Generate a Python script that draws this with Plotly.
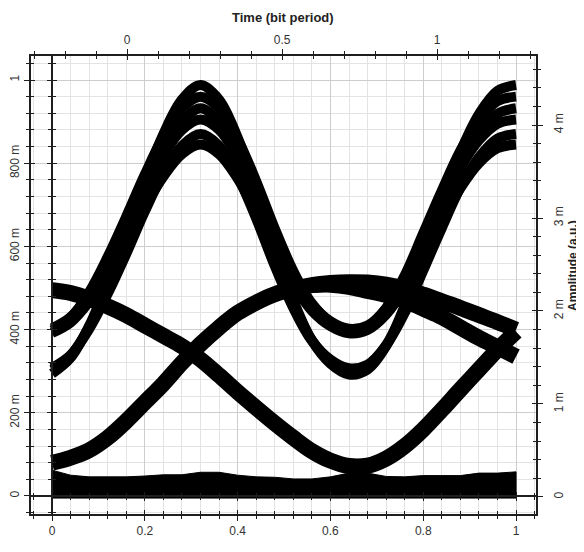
import plotly.graph_objects as go

# ---------------- data ----------------
time_x = [0.00, 0.04, 0.08, 0.12, 0.16, 0.20, 0.24, 0.28, 0.32, 0.36, 0.40, 0.44, 0.48,
          0.52, 0.56, 0.60, 0.64, 0.68, 0.72, 0.76, 0.80, 0.84, 0.88, 0.92, 0.96, 1.00]

# large "1"-level waveforms (upper eye)
wave_a1 = [0.294, 0.332, 0.409, 0.514, 0.633, 0.759, 0.870, 0.953, 0.988, 0.953, 0.862, 0.737, 0.597,
           0.471, 0.374, 0.318, 0.292, 0.304, 0.360, 0.457, 0.583, 0.709, 0.827, 0.918, 0.974, 0.988]
wave_a2 = [0.398, 0.428, 0.490, 0.575, 0.672, 0.773, 0.864, 0.932, 0.960, 0.932, 0.858, 0.757, 0.643,
           0.541, 0.463, 0.418, 0.397, 0.406, 0.452, 0.530, 0.632, 0.734, 0.830, 0.903, 0.949, 0.960]
wave_a3 = [0.303, 0.337, 0.406, 0.500, 0.607, 0.720, 0.822, 0.899, 0.932, 0.899, 0.818, 0.703, 0.577,
           0.464, 0.375, 0.325, 0.302, 0.313, 0.363, 0.450, 0.565, 0.678, 0.786, 0.869, 0.919, 0.932]
wave_a4 = [0.403, 0.430, 0.486, 0.562, 0.647, 0.738, 0.819, 0.880, 0.905, 0.880, 0.814, 0.723, 0.622,
           0.531, 0.461, 0.420, 0.402, 0.410, 0.451, 0.521, 0.612, 0.703, 0.789, 0.855, 0.895, 0.905]
wave_a5 = [0.308, 0.339, 0.401, 0.486, 0.582, 0.684, 0.775, 0.842, 0.870, 0.842, 0.768, 0.667, 0.553,
           0.452, 0.373, 0.328, 0.307, 0.316, 0.362, 0.440, 0.542, 0.644, 0.741, 0.814, 0.859, 0.870]
wave_a6 = [0.392, 0.417, 0.467, 0.536, 0.613, 0.695, 0.768, 0.822, 0.845, 0.822, 0.763, 0.681, 0.590,
           0.508, 0.445, 0.408, 0.391, 0.399, 0.436, 0.499, 0.581, 0.663, 0.740, 0.800, 0.836, 0.845]

# medium-level transitions (lower eye)
wave_fall = [0.495, 0.488, 0.474, 0.456, 0.435, 0.410, 0.385, 0.360, 0.328, 0.290, 0.250, 0.212, 0.175,
             0.140, 0.108, 0.085, 0.072, 0.073, 0.090, 0.120, 0.160, 0.207, 0.256, 0.304, 0.352, 0.395]
wave_rise = [0.080, 0.092, 0.110, 0.140, 0.180, 0.225, 0.270, 0.320, 0.365, 0.405, 0.440, 0.465, 0.485,
             0.498, 0.507, 0.512, 0.514, 0.513, 0.508, 0.498, 0.484, 0.468, 0.452, 0.435, 0.418, 0.400]
wave_fall2 = [None, None, None, None, None, None, None, None, None, None, None, None, None,
              None, 0.507, 0.508, 0.503, 0.493, 0.483, 0.470, 0.450, 0.430, 0.405, 0.380, 0.358, 0.335]

# "0"-level floor band
floor_hi = [0.062, 0.050, 0.046, 0.046, 0.046, 0.048, 0.051, 0.051, 0.057, 0.057, 0.050, 0.046, 0.045,
            0.041, 0.041, 0.046, 0.055, 0.055, 0.047, 0.046, 0.049, 0.049, 0.049, 0.055, 0.055, 0.058]
floor_lo = [-0.005] * 26

bottom_ticks = [0, 0.2, 0.4, 0.6, 0.8, 1]
bottom_labels = ["0", "0.2", "0.4", "0.6", "0.8", "1"]
top_ticks = [0, 0.5, 1]
top_labels = ["0", "0.5", "1"]
left_ticks = [0, 0.2, 0.4, 0.6, 0.8, 1]
left_labels = ["0", "200 m", "400 m", "600 m", "800 m", "1"]
right_ticks = [0, 1, 2, 3, 4]
right_labels = ["0", "1 m", "2 m", "3 m", "4 m"]

# ---------------- style ----------------
INK = "#1e1e1e"
FONT = "Arial, 'Liberation Sans', sans-serif"
X_RANGE = [-0.0453, 1.043]
X2_RANGE = [-0.3097, 1.319]
Y_RANGE = [-0.0433, 1.0577]
Y2_RANGE = [-0.183, 4.742]

fig = go.Figure()

# floor band
fig.add_trace(go.Scatter(x=time_x + time_x[::-1], y=floor_hi + floor_lo[::-1],
                         fill="toself", fillcolor="black", line=dict(color="black", width=1),
                         mode="lines", showlegend=False, hoverinfo="skip"))

for w in [wave_fall, wave_rise, wave_fall2]:
    fig.add_trace(go.Scatter(x=time_x, y=w, mode="lines",
                             line=dict(color="black", width=16, shape="spline", smoothing=1.0),
                             showlegend=False, hoverinfo="skip", connectgaps=False))

for w in [wave_a1, wave_a2, wave_a3, wave_a4, wave_a5, wave_a6]:
    fig.add_trace(go.Scatter(x=time_x, y=w, mode="lines",
                             line=dict(color="black", width=10, shape="spline", smoothing=1.0),
                             showlegend=False, hoverinfo="skip"))

# empty carriers so every overlay axis is drawn
for xa, ya in [("x2", "y2"), ("x3", "y3"), ("x4", "y4"), ("x5", "y5"), ("x6", "y6")]:
    fig.add_trace(go.Scatter(x=[None], y=[None], xaxis=xa, yaxis=ya, showlegend=False,
                             hoverinfo="skip", mode="lines"))

tickfont = dict(family=FONT, size=12, color="#333333")
line = dict(showline=True, linecolor=INK, linewidth=1.5)
noline = dict(showline=False)
quiet = dict(showgrid=False, zeroline=False, showticklabels=False)
fixed = dict(automargin=False)


def mn(dt, side):
    return dict(dtick=dt, tick0=0, ticks=side, ticklen=3, tickwidth=1.2, tickcolor=INK)


# the page body adds an 8 px offset, so the figure is 8 px smaller and its
# left/top margins are reduced accordingly
fig.update_layout(
    width=576, height=544,
    margin=dict(l=23, r=48, t=48, b=38, autoexpand=False),
    paper_bgcolor="white", plot_bgcolor="white",
    font=dict(family=FONT, color="#333333"),
    xaxis=dict(range=X_RANGE, side="bottom", anchor="y", **line, **fixed,
               ticks="outside", ticklen=5, tickwidth=1.4, tickcolor=INK,
               tickvals=bottom_ticks, ticktext=bottom_labels, tickfont=tickfont,
               showgrid=True, gridcolor="#cdcdcd", gridwidth=1, zeroline=False,
               minor=dict(mn(0.04, "outside"), showgrid=True, gridcolor="#e3e3e3", gridwidth=1)),
    xaxis2=dict(range=X2_RANGE, side="top", overlaying="x", anchor="y", **line, **fixed,
                ticks="outside", ticklen=5, tickwidth=1.4, tickcolor=INK,
                tickvals=top_ticks, ticktext=top_labels, tickfont=tickfont,
                showgrid=False, zeroline=False, minor=mn(0.1, "outside")),
    xaxis3=dict(range=X_RANGE, side="bottom", overlaying="x", anchor="y", **noline, **quiet, **fixed,
                ticks="inside", ticklen=4, tickwidth=1.4, tickcolor=INK, tickvals=bottom_ticks,
                minor=mn(0.04, "inside")),
    xaxis4=dict(range=X2_RANGE, side="top", overlaying="x", anchor="y", **noline, **quiet, **fixed,
                ticks="inside", ticklen=4, tickwidth=1.4, tickcolor=INK, tickvals=top_ticks,
                minor=mn(0.1, "inside")),
    xaxis5=dict(range=X_RANGE, side="bottom", overlaying="x", anchor="free", position=0.0393,
                **line, **quiet, **fixed, ticks="outside", ticklen=4, tickwidth=1.4, tickcolor=INK,
                tickvals=bottom_ticks, minor=mn(0.04, "outside")),
    xaxis6=dict(range=X_RANGE, side="top", overlaying="x", anchor="free", position=0.0393,
                **noline, **quiet, **fixed, ticks="outside", ticklen=4, tickwidth=1.4, tickcolor=INK,
                tickvals=bottom_ticks, minor=mn(0.04, "outside")),
    yaxis=dict(range=Y_RANGE, side="left", anchor="x", **line, **fixed,
               ticks="outside", ticklen=5, tickwidth=1.4, tickcolor=INK,
               tickvals=left_ticks, ticktext=left_labels, tickangle=-90, tickfont=tickfont,
               showgrid=True, gridcolor="#cdcdcd", gridwidth=1, zeroline=False,
               minor=dict(mn(0.04, "outside"), showgrid=True, gridcolor="#e3e3e3", gridwidth=1)),
    yaxis2=dict(range=Y2_RANGE, side="right", overlaying="y", anchor="x", **line, **fixed,
                ticks="outside", ticklen=5, tickwidth=1.4, tickcolor=INK,
                tickvals=right_ticks, ticktext=right_labels, tickangle=-90, tickfont=tickfont,
                ticklabelstandoff=6,
                showgrid=False, zeroline=False, minor=mn(0.2, "outside")),
    yaxis3=dict(range=Y_RANGE, side="left", overlaying="y", anchor="x", **noline, **quiet, **fixed,
                ticks="inside", ticklen=4, tickwidth=1.4, tickcolor=INK, tickvals=left_ticks,
                minor=mn(0.04, "inside")),
    yaxis4=dict(range=Y2_RANGE, side="right", overlaying="y", anchor="x", **noline, **quiet, **fixed,
                ticks="inside", ticklen=4, tickwidth=1.4, tickcolor=INK, tickvals=right_ticks,
                minor=mn(0.2, "inside")),
    yaxis5=dict(range=Y_RANGE, side="left", overlaying="y", anchor="free", position=0.0416,
                **line, **quiet, **fixed, ticks="outside", ticklen=4, tickwidth=1.4, tickcolor=INK,
                tickvals=left_ticks, minor=mn(0.04, "outside")),
    yaxis6=dict(range=Y_RANGE, side="right", overlaying="y", anchor="free", position=0.0416,
                **noline, **quiet, **fixed, ticks="outside", ticklen=4, tickwidth=1.4, tickcolor=INK,
                tickvals=left_ticks, minor=mn(0.04, "outside")),
    annotations=[
        dict(text="<b>Time (bit period)</b>", xref="paper", yref="paper",
             x=0.499, y=1.083, xanchor="center", yanchor="middle",
             showarrow=False, font=dict(family=FONT, size=13, color="#222")),
        dict(text="<b>Amplitude (a.u.)</b>", xref="paper", yref="paper",
             x=1.0732, y=0.5437, xanchor="center", yanchor="middle", textangle=-90,
             showarrow=False, font=dict(family=FONT, size=12, color="#222")),
    ],
)

fig.write_html("out.html")
